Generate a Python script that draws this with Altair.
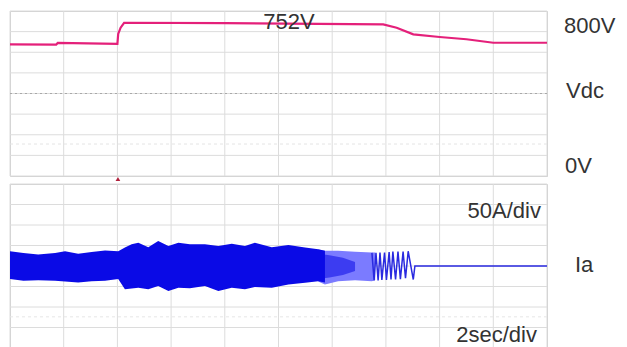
import altair as alt
import pandas as pd

FONT = "Liberation Sans"
TXT = "#333333"
PINK = "#e4207a"
BLUE = "#0a0ae6"
LIGHT = "#7b7bff"
GRID = "#dcdcdc"

# Vdc trace (time s, volts)
vdc_t = [0.0, 1.72, 1.78, 4.0, 4.03, 4.12, 4.25, 8.0, 13.9, 14.4, 15.02, 16.0, 17.0, 18.0, 20.0]
vdc_v = [638, 637, 645, 641, 689, 719, 743, 741, 735, 719, 687, 674, 663, 646, 646]

# Ia envelope, dense part (time s, upper A, lower A)
env_t = [0.0, 0.5, 1.05, 1.68, 2.05, 2.54, 3.04, 3.54, 4.03, 4.28, 4.53, 4.78, 5.15, 5.52,
         5.90, 6.27, 6.70, 7.26, 7.76, 8.26, 8.75, 9.12, 9.75, 10.37, 10.99, 11.48, 11.73]
env_up = [36, 32, 28, 32, 36, 30, 34, 38, 36, 45, 53, 57, 46, 61,
          49, 57, 53, 53, 49, 54, 49, 57, 46, 51, 45, 41, 37]
env_lo = [-32, -36, -35, -36, -38, -40, -37, -36, -32, -57, -55, -53, -57, -49,
          -61, -53, -54, -49, -61, -53, -57, -51, -53, -45, -41, -37, -40]

# Ia envelope, lighter part
lt_t = [11.48, 11.73, 12.22, 12.85, 13.48, 13.6]
lt_up = [40, 37, 37, 35, 33, 33]
lt_lo = [-38, -45, -37, -35, -37, -34]

# darker streak core inside the lighter part
core_t = [11.48, 11.9, 12.4, 12.85]
core_up = [30, 26, 20, 10]
core_lo = [-32, -28, -22, -12]

# last visible oscillations then the flat line
osc_t = [13.48, 13.56, 13.63, 13.71, 13.78, 13.85, 13.95, 14.02, 14.12, 14.19, 14.26, 14.36,
         14.45, 14.54, 14.64, 14.73, 14.83, 15.02, 15.08, 20.0]
osc_a = [32, -35, 32, -35, 33, -34, 33, -34, 34, -33, 35, -33,
         35, -32, 35, -30, 36, -33, 0, 0]

x_ticks = [0, 2, 4, 6, 8, 10, 12, 14, 16, 18, 20]
v_ticks = [0, 100, 200, 300, 400, 500, 600, 700, 800]
a_ticks = [-200, -150, -100, -50, 0, 50, 100, 150, 200]

W = 537
H_TOP = 165
H_BOT = 164


def X(field):
    return alt.X(field, type="quantitative",
                 scale=alt.Scale(domain=[0, 20], nice=False, zero=False), axis=None)


def YV(field):
    return alt.Y(field, type="quantitative",
                 scale=alt.Scale(domain=[0, 800], nice=False), axis=None)


def YA(field):
    return alt.Y(field, type="quantitative",
                 scale=alt.Scale(domain=[-200, 200], nice=False), axis=None)


def label(text, x, y, align="left", size=22, baseline="middle"):
    return alt.Chart(pd.DataFrame({"label": [text]})).mark_text(
        align=align, baseline=baseline, fontSize=size, font=FONT, color=TXT
    ).encode(x=alt.value(x), y=alt.value(y), text="label:N")


xgrid_df = pd.DataFrame({"t": x_ticks})
vgrid_df = pd.DataFrame({"v": v_ticks})
agrid_df = pd.DataFrame({"a": a_ticks})

vdc_df = pd.DataFrame({"t": vdc_t, "v": vdc_v})
center_df = pd.DataFrame({"v": [400]})
faint_df = pd.DataFrame({"v": [155]})
trig_df = pd.DataFrame({"t": [4.02]})

top = alt.layer(
    alt.Chart(xgrid_df).mark_rule(color=GRID, strokeWidth=1).encode(x=X("t")),
    alt.Chart(vgrid_df).mark_rule(color=GRID, strokeWidth=1).encode(y=YV("v")),
    alt.Chart(faint_df).mark_rule(color="#e4e4e4", strokeDash=[3, 3], strokeWidth=1).encode(y=YV("v")),
    alt.Chart(center_df).mark_rule(color="#a8a8a8", strokeDash=[2, 3], strokeWidth=1).encode(y=YV("v")),
    alt.Chart(vdc_df).mark_line(color=PINK, strokeWidth=2.2).encode(x=X("t"), y=YV("v")),
    alt.Chart(trig_df).mark_point(shape="triangle-up", filled=True, size=22, color="#b0203c",
                                  opacity=1).encode(x=X("t"), y=alt.value(168)),
    label("752V", 279, 0.5, align="center", baseline="top"),
    label("800V", 554, 15),
    label("Vdc", 556, 79.5),
    label("0V", 555, 155),
).properties(width=W, height=H_TOP)

env_df = pd.DataFrame({"t": env_t, "up": env_up, "lo": env_lo})
lt_df = pd.DataFrame({"t": lt_t, "up": lt_up, "lo": lt_lo})
core_df = pd.DataFrame({"t": core_t, "up": core_up, "lo": core_lo})
osc_df = pd.DataFrame({"t": osc_t, "a": osc_a})
faint2_df = pd.DataFrame({"a": [-124]})

bottom = alt.layer(
    alt.Chart(xgrid_df).mark_rule(color=GRID, strokeWidth=1).encode(x=X("t")),
    alt.Chart(agrid_df).mark_rule(color=GRID, strokeWidth=1).encode(y=YA("a")),
    alt.Chart(faint2_df).mark_rule(color="#e6e6e6", strokeDash=[3, 3], strokeWidth=1).encode(y=YA("a")),
    alt.Chart(lt_df).mark_area(color=LIGHT, opacity=1).encode(x=X("t"), y=YA("up"), y2="lo"),
    alt.Chart(core_df).mark_area(color=BLUE, opacity=0.55).encode(x=X("t"), y=YA("up"), y2="lo"),
    alt.Chart(env_df).mark_area(color=BLUE, opacity=1).encode(x=X("t"), y=YA("up"), y2="lo"),
    alt.Chart(osc_df).mark_line(color="#2a2ae0", strokeWidth=1.5).encode(x=X("t"), y=YA("a")),
    label("50A/div", 531, 26.5, align="right"),
    label("Ia", 565, 81),
    label("2sec/div", 527, 150.5, align="right"),
).properties(width=W, height=H_BOT)

chart = alt.vconcat(top, bottom, spacing=8, bounds="flush").properties(
    padding={"left": -3, "top": 2, "right": 0, "bottom": 0},
    background="white",
).configure_view(stroke="#cfcfcf", strokeWidth=1)

chart.save("out.html", embed_options={"renderer": "svg", "actions": False})
